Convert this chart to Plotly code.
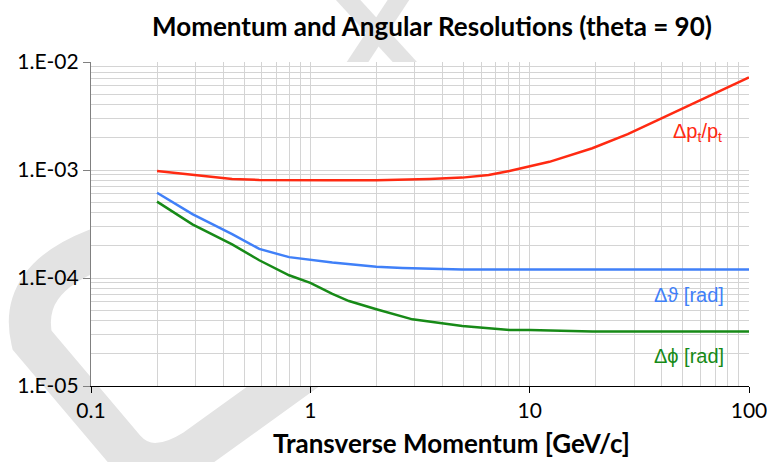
import plotly.graph_objects as go

# Transverse momentum (GeV/c) sample points for each resolution curve
pt_dpt = [0.2, 0.3, 0.44, 0.585, 0.8, 1.2, 2.0, 2.63, 3.5, 4.93, 6.5, 8.08, 12.3, 19.3, 28, 39, 52, 64, 80, 100]
res_dpt = [0.98e-3, 0.90e-3, 0.826e-3, 0.81e-3, 0.805e-3, 0.805e-3, 0.805e-3, 0.81e-3, 0.825e-3, 0.85e-3,
           0.90e-3, 0.98e-3, 1.19e-3, 1.59e-3, 2.15e-3, 2.94e-3, 3.85e-3, 4.67e-3, 5.8e-3, 7.2e-3]

pt_dth = [0.2, 0.29, 0.44, 0.585, 0.8, 1.0, 1.26, 2.0, 2.63, 4.93, 10, 20, 50, 100]
res_dth = [0.616e-3, 0.39e-3, 0.255e-3, 0.186e-3, 0.156e-3, 0.147e-3, 0.139e-3, 0.127e-3, 0.124e-3,
           0.120e-3, 0.120e-3, 0.120e-3, 0.120e-3, 0.120e-3]

pt_dph = [0.2, 0.29, 0.44, 0.585, 0.8, 1.0, 1.26, 1.5, 2.0, 2.92, 4.93, 8.1, 10, 19.3, 50, 100]
res_dph = [0.51e-3, 0.314e-3, 0.205e-3, 0.146e-3, 0.106e-3, 0.090e-3, 0.0713e-3, 0.0612e-3, 0.0513e-3,
           0.0414e-3, 0.036e-3, 0.033e-3, 0.033e-3, 0.0319e-3, 0.032e-3, 0.032e-3]

x_tickvals = [0.1, 1, 10, 100]
x_ticktext = ["0.1", "1", "10", "100"]
y_tickvals = [1e-5, 1e-4, 1e-3, 1e-2]
y_ticktext = ["1.E-05", "1.E-04", "1.E-03", "1.E-02"]

RED = "#ff2a12"
BLUE = "#4080f8"
GREEN = "#178a17"

W, H = 767, 462
L, R, T, B = 91, 18, 62, 76
PW, PH = W - L - R, H - T - B


def to_paper(px, py):
    return (px - L) / PW, (H - B - py) / PH


def path_from(points):
    out = []
    for cmd, pts in points:
        coords = " ".join("%.4f,%.4f" % to_paper(*p) for p in pts)
        out.append(cmd + " " + coords)
    return " ".join(out)


fig = go.Figure()

fig.add_trace(go.Scatter(x=pt_dpt, y=res_dpt, mode="lines", line=dict(color=RED, width=2.5),
                         showlegend=False, hoverinfo="skip"))
fig.add_trace(go.Scatter(x=pt_dth, y=res_dth, mode="lines", line=dict(color=BLUE, width=2.5),
                         showlegend=False, hoverinfo="skip"))
fig.add_trace(go.Scatter(x=pt_dph, y=res_dph, mode="lines", line=dict(color=GREEN, width=2.5),
                         showlegend=False, hoverinfo="skip"))

# Faint "draft" watermark strokes sitting behind the plotting area
WM = "#e3e3e3"
d_path = path_from([
    ("M", [(300, 170)]),
    ("L", [(95, 250)]),
    ("Q", [(18, 280), (32, 340)]),
    ("L", [(125, 450)]),
    ("Q", [(150, 478), (195, 450)]),
    ("L", [(320, 360)]),
])
shapes = [
    dict(type="path", xref="paper", yref="paper", path=d_path, layer="below",
         line=dict(color=WM, width=42)),
    dict(type="path", xref="paper", yref="paper", layer="below",
         path=path_from([("M", [(351, 72)]), ("L", [(405, -10)])]),
         line=dict(color=WM, width=18)),
    dict(type="path", xref="paper", yref="paper", layer="below",
         path=path_from([("M", [(414, 72)]), ("L", [(339, -10)])]),
         line=dict(color=WM, width=18)),
    # opaque plotting area drawn over the watermark
    dict(type="rect", xref="paper", yref="paper", x0=0, x1=1, y0=0, y1=1, layer="below",
         fillcolor="white", line=dict(width=0)),
]

title_x, _ = to_paper(432, 0)
xtitle_x, xtitle_y = to_paper(451, 443)

GRID = "#d4d4d4"
fig.update_layout(
    width=W, height=H,
    margin=dict(l=L, r=R, t=T, b=B, autoexpand=False),
    paper_bgcolor="white", plot_bgcolor="white",
    title=dict(text="<b>Momentum and Angular Resolutions (theta = 90)</b>",
               x=title_x, xref="paper", xanchor="center", y=1 - 27 / H, yanchor="middle",
               font=dict(family="Lato", size=26, color="black")),
    shapes=shapes,
    annotations=[
        dict(x=xtitle_x, y=xtitle_y, xref="paper", yref="paper", showarrow=False,
             xanchor="center", yanchor="middle",
             text="<b>Transverse Momentum [GeV/c]</b>",
             font=dict(family="Lato", size=26, color="black")),
        dict(x=1.765, y=-2.657, xref="x", yref="y", showarrow=False,
             text="Δp<sub>t</sub>/p<sub>t</sub>", font=dict(family="Liberation Sans", size=20, color=RED)),
        dict(x=1.728, y=-4.157, xref="x", yref="y", showarrow=False,
             text="Δϑ [rad]", font=dict(family="Liberation Sans", size=20, color=BLUE)),
        dict(x=1.728, y=-4.722, xref="x", yref="y", showarrow=False,
             text="Δϕ [rad]", font=dict(family="Liberation Sans", size=20, color=GREEN)),
    ],
)

fig.update_xaxes(
    type="log", range=[-1, 2], automargin=False, ticklabeloverflow="allow",
    tickvals=x_tickvals, ticktext=x_ticktext,
    ticks="outside", ticklen=6, tickcolor="black", tickwidth=1,
    showline=True, linecolor="black", linewidth=1.2,
    showgrid=True, gridcolor=GRID, gridwidth=1,
    minor=dict(dtick="D1", showgrid=True, gridcolor=GRID, gridwidth=1, ticks=""),
    zeroline=False,
    tickfont=dict(family="Lato", size=21, color="black"),
)
fig.update_yaxes(
    type="log", range=[-5, -2], automargin=False, ticklabeloverflow="allow",
    tickvals=y_tickvals, ticktext=y_ticktext,
    ticks="outside", ticklen=7, tickcolor="#808080", tickwidth=1,
    showline=True, linecolor="#808080", linewidth=1.2,
    showgrid=True, gridcolor=GRID, gridwidth=1,
    minor=dict(dtick="D1", showgrid=True, gridcolor=GRID, gridwidth=1, ticks=""),
    zeroline=False,
    tickfont=dict(family="Lato", size=21, color="black"),
)

fig.write_html("out.html")
